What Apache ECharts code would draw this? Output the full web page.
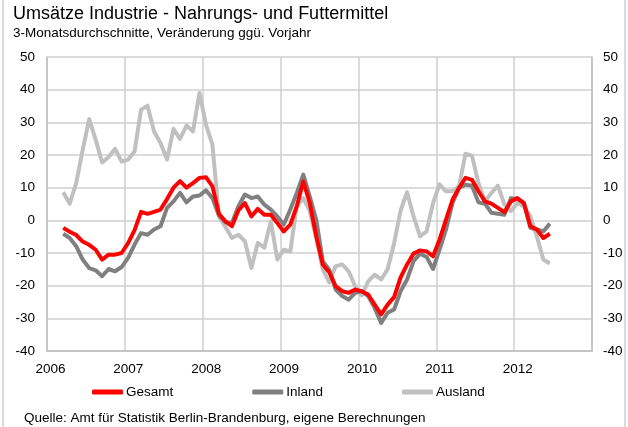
<!DOCTYPE html>
<html><head><meta charset="utf-8">
<script src="https://cdn.jsdelivr.net/npm/echarts@6/dist/echarts.min.js"></script>
<style>html,body{margin:0;padding:0;background:#fff}#c{width:628px;height:427px}</style>
</head><body><div id="c"></div>
<script>
const titleText = 'Umsätze Industrie - Nahrungs- und Futtermittel';
const subtitleText = '3-Monatsdurchschnitte, Veränderung ggü. Vorjahr';
const sourceText = 'Quelle: Amt für Statistik Berlin-Brandenburg, eigene Berechnungen';
const seriesNames = ['Gesamt', 'Inland', 'Ausland'];
const yearLabels = ['2006','2007','2008','2009','2010','2011','2012'];
// months since Jan 2006 of the first value (March 2006), monthly through June 2012
const firstMonthIndex = 2;
const gesamt = [-2.3,-3.5,-4.5,-6.5,-7.5,-9,-12,-10.5,-10.5,-10,
  -7,-3,2.6,2,2.6,3.3,6.5,10,12,10,11.4,13,
  13.2,10.4,2,-0.3,-1.8,3,5.3,1.2,3.5,1.7,1.7,-0.8,
  -3.4,-1.3,4.3,11.9,5.3,-4.9,-13.5,-15.9,-20.2,-21.7,-22.2,-21.2,
  -21.7,-22.7,-25.8,-28.8,-25.8,-23.5,-17.5,-13.5,-10.2,-9.2,-9.5,-11,
  -5.9,0.2,6.3,9.9,13,12.4,8.9,5.8,5.1,3.8,2.5,5.8,
  6.8,5.3,-1.8,-2.8,-5.4,-4.1];
const inland = [-4.1,-5.4,-7.9,-12,-14.6,-15.3,-17.1,-14.9,-15.6,-14.3,
  -11.5,-7.4,-3.9,-4.4,-2.8,-1.8,3.8,5.8,8.4,5.5,7.3,7.6,
  9.2,6.8,1.5,-0.6,-0.8,4.3,7.9,6.8,7.3,4.8,3.3,1.2,
  -1.3,3.3,8.4,14,7.3,0.2,-12.5,-15.1,-21.2,-23.2,-24.3,-22.2,
  -21.7,-23.2,-26.8,-31.4,-28.3,-27.3,-21.7,-18.1,-12.5,-10.2,-11.2,-14.9,
  -9,-2.8,5.3,9.9,10.9,10.6,5.5,5.1,2.3,2,1.7,6.8,
  6.5,5.3,-2.3,-2.8,-3.4,-1];
const ausland = [8.6,5.1,11.4,21.6,31,24.7,17.7,19.4,21.9,18,
  18.6,21.1,33.9,35.1,27.2,23.7,18.6,28,24.9,29,27.2,39,
  29.3,23.1,1.2,-2,-5.4,-4.4,-6.4,-14.6,-6.9,-8.4,-0.3,-12,
  -9,-9.5,4.3,6.8,2.8,-5.4,-15,-19,-14,-13.5,-15.6,-20.2,
  -23,-18.7,-16.6,-18.1,-15,-7,3,8.6,1.2,-4.9,-3.4,5.3,
  11,8.9,8.9,10.4,20.4,19.8,11.4,5.8,8.4,10.6,4.8,2.8,
  5.3,4.3,1.2,-4.9,-12,-13.2];

function toPoints(arr){ return arr.map((v,k)=>[firstMonthIndex + k + 0.5, v]); }
const FONT = 'Liberation Sans';
const chart = echarts.init(document.getElementById('c'), null, {renderer:'canvas'});
const lineSeries = (name, data, color, z) => ({
  name, type:'line', data: toPoints(data), symbol:'none', smooth:false, z,
  lineStyle:{color, width:4, join:'round'}, itemStyle:{color}, yAxisIndex:0
});
chart.setOption({
  animation:false,
  textStyle:{fontFamily:FONT},
  title:[
    {text:titleText, left:13, top:5, padding:0, textStyle:{fontFamily:FONT, fontSize:18, fontWeight:'normal', color:'#000'}},
    {text:subtitleText, left:13, top:26, padding:0, textStyle:{fontFamily:FONT, fontSize:13.5, fontWeight:'normal', color:'#000'}},
    {text:sourceText, left:24, top:411, padding:0, textStyle:{fontFamily:FONT, fontSize:13.5, fontWeight:'normal', color:'#000'}}
  ],
  legend:{
    data:seriesNames, left:92, top:385, padding:0, itemWidth:31, itemHeight:5, itemGap:79,
    icon:'roundRect',
    textStyle:{fontFamily:FONT, fontSize:13.5, color:'#000', padding:[0,0,0,-2]}
  },
  grid:{left:47, right:36, top:57, bottom:76, containLabel:false, show:false},
  xAxis:{
    type:'value', min:0, max:84, interval:12,
    axisLine:{show:true, onZero:false, lineStyle:{color:'#bfbfbf', width:1.5}},
    axisTick:{show:false},
    splitLine:{show:true, lineStyle:{color:'#cfcfcf', width:1.5}},
    axisLabel:{color:'#000', fontSize:13.5, fontFamily:FONT, margin:11, padding:[0,0,0,7],
      formatter:(v)=>{const k=Math.round(v/12); return yearLabels[k] !== undefined ? yearLabels[k] : '';},
      showMaxLabel:false}
  },
  yAxis:[
    {type:'value', min:-40, max:50, interval:10, position:'left',
     axisLine:{show:true, lineStyle:{color:'#bfbfbf', width:1.5}}, axisTick:{show:false},
     splitLine:{show:true, lineStyle:{color:'#cfcfcf', width:1.5}},
     axisLabel:{color:'#000', fontSize:13.5, fontFamily:FONT, margin:12}},
    {type:'value', min:-40, max:50, interval:10, position:'right',
     axisLine:{show:true, lineStyle:{color:'#bfbfbf', width:1.5}}, axisTick:{show:false},
     splitLine:{show:false},
     axisLabel:{color:'#000', fontSize:13.5, fontFamily:FONT, margin:11, align:'left'}}
  ],
  graphic:[
    {type:'rect', shape:{x:3, y:-2, width:622, height:432}, style:{fill:'none', stroke:'#d0d0d0', lineWidth:1.5}, silent:true}
  ],
  series:[
    lineSeries('Gesamt', gesamt, '#ff0000', 4),
    lineSeries('Inland', inland, '#808080', 3),
    lineSeries('Ausland', ausland, '#c0c0c0', 2)
  ]
});
</script></body></html>
